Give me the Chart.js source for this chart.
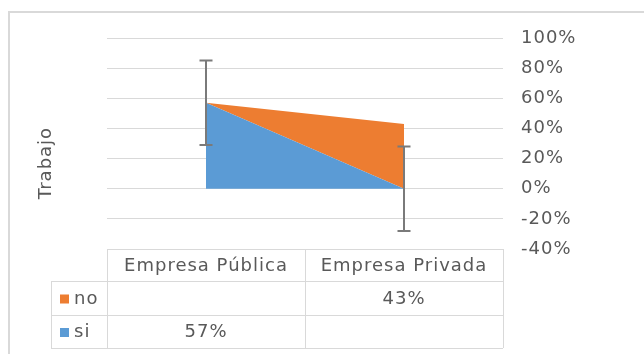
<!DOCTYPE html>
<html>
<head>
<meta charset="utf-8">
<script src="https://cdn.jsdelivr.net/npm/chart.js@4"></script>
<style>
	body { margin: 0; background: #fff; }
	canvas { display: block; }
</style>
</head>
<body>
<canvas id="chart" width="644" height="354"></canvas>
<script>
// Trabajo: si / no por tipo de empresa
const categories = ['Empresa Pública', 'Empresa Privada'];
const si_values = [57, null];
const no_values = [null, 43];
const si_errors = [28, 28];
const y_min = -40;
const y_max = 100;
const y_step = 20;

const colors = {
	si: '#5B9BD5',
	no: '#ED7D31',
	text: '#595959',
	grid: '#D9D9D9',
	error: '#7A7A7A'
};
const font_family = '"DejaVu Sans", Verdana, sans-serif';
const font_size = 18;

// rows of the data table under the plot (top row first)
const table_rows = [
	{label: 'no', color: colors.no, values: no_values},
	{label: 'si', color: colors.si, values: si_values}
];

function percent(v) {
	return v === null ? '' : v + '%';
}

// outer frame, spaced letters
const framePlugin = {
	id: 'frame',
	beforeDraw(chart) {
		const ctx = chart.ctx;
		ctx.letterSpacing = '1px';
		ctx.save();
		ctx.strokeStyle = colors.grid;
		ctx.lineWidth = 2;
		ctx.strokeRect(9, 12, 700, 400);
		ctx.restore();
	}
};

// error bars on the "si" series
const errorBarPlugin = {
	id: 'errorBars',
	afterDatasetsDraw(chart) {
		const ctx = chart.ctx;
		const x = chart.scales.x;
		const y = chart.scales.y;
		ctx.save();
		ctx.strokeStyle = colors.error;
		ctx.lineWidth = 2;
		si_errors.forEach((err, i) => {
			const v = si_values[i] ?? 0;
			const px = x.getPixelForValue(i);
			const top = y.getPixelForValue(v + err);
			const bottom = y.getPixelForValue(v - err);
			ctx.beginPath();
			ctx.moveTo(px, top);
			ctx.lineTo(px, bottom);
			ctx.moveTo(px - 6.5, top);
			ctx.lineTo(px + 6.5, top);
			ctx.moveTo(px - 6.5, bottom);
			ctx.lineTo(px + 6.5, bottom);
			ctx.stroke();
		});
		ctx.restore();
	}
};

// data table + axis title
const tablePlugin = {
	id: 'dataTable',
	afterDraw(chart) {
		const ctx = chart.ctx;
		const area = chart.chartArea;
		const x = chart.scales.x;
		const col_edges = [area.left];
		for (let i = 0; i < categories.length - 1; i++) {
			col_edges.push((x.getPixelForValue(i) + x.getPixelForValue(i + 1)) / 2);
		}
		col_edges.push(area.right);
		const label_left = 51;
		const row_edges = [area.bottom, 281, 315, 348];

		ctx.save();
		ctx.strokeStyle = colors.grid;
		ctx.lineWidth = 1;
		ctx.beginPath();
		// header row
		ctx.moveTo(area.left, row_edges[0] + 0.5);
		ctx.lineTo(area.right, row_edges[0] + 0.5);
		// data rows
		for (let r = 1; r < row_edges.length; r++) {
			ctx.moveTo(label_left, row_edges[r] + 0.5);
			ctx.lineTo(area.right, row_edges[r] + 0.5);
		}
		ctx.moveTo(label_left + 0.5, row_edges[1]);
		ctx.lineTo(label_left + 0.5, row_edges[3]);
		col_edges.forEach(cx => {
			ctx.moveTo(Math.round(cx) + 0.5, row_edges[0]);
			ctx.lineTo(Math.round(cx) + 0.5, row_edges[3]);
		});
		ctx.stroke();

		ctx.font = `${font_size}px ${font_family}`;
		ctx.fillStyle = colors.text;
		ctx.textBaseline = 'middle';
		ctx.textAlign = 'center';
		categories.forEach((c, i) => {
			ctx.fillText(c, x.getPixelForValue(i), (row_edges[0] + row_edges[1]) / 2 + 1);
		});

		table_rows.forEach((row, r) => {
			const cy = (row_edges[r + 1] + row_edges[r + 2]) / 2 + 1;
			ctx.fillStyle = row.color;
			ctx.fillRect(60, cy - 4.5, 9, 9);
			ctx.fillStyle = colors.text;
			ctx.textAlign = 'left';
			ctx.fillText(row.label, 74, cy);
			ctx.textAlign = 'center';
			row.values.forEach((v, i) => {
				ctx.fillText(percent(v), x.getPixelForValue(i), cy);
			});
		});

		// axis title, rotated
		ctx.translate(46, 163);
		ctx.rotate(-Math.PI / 2);
		ctx.textAlign = 'center';
		ctx.fillText('Trabajo', 0, 0);
		ctx.restore();
	}
};

const config = {
	type: 'line',
	data: {
		labels: categories,
		datasets: [
			{
				label: 'si',
				data: si_values.map(v => v ?? 0),
				backgroundColor: colors.si,
				borderWidth: 0,
				pointRadius: 0,
				fill: 'origin'
			},
			{
				label: 'no',
				data: no_values.map(v => v ?? 0),
				backgroundColor: colors.no,
				borderWidth: 0,
				pointRadius: 0,
				fill: '-1'
			}
		]
	},
	options: {
		responsive: false,
		animation: false,
		layout: {
			padding: {left: 107, top: 38, bottom: 105, right: 0}
		},
		plugins: {
			legend: {display: false},
			tooltip: {enabled: false}
		},
		elements: {
			line: {tension: 0}
		},
		scales: {
			x: {
				display: false,
				offset: true
			},
			y: {
				position: 'right',
				stacked: true,
				min: y_min,
				max: y_max,
				border: {display: false},
				grid: {color: colors.grid, drawTicks: false},
				ticks: {
					stepSize: y_step,
					padding: 18,
					color: colors.text,
					font: {family: font_family, size: font_size},
					callback: v => v + '%'
				},
				afterFit(scale) {
					scale.width = 141;
				}
			}
		}
	},
	plugins: [framePlugin, errorBarPlugin, tablePlugin]
};

new Chart(document.getElementById('chart'), config);
</script>
</body>
</html>
